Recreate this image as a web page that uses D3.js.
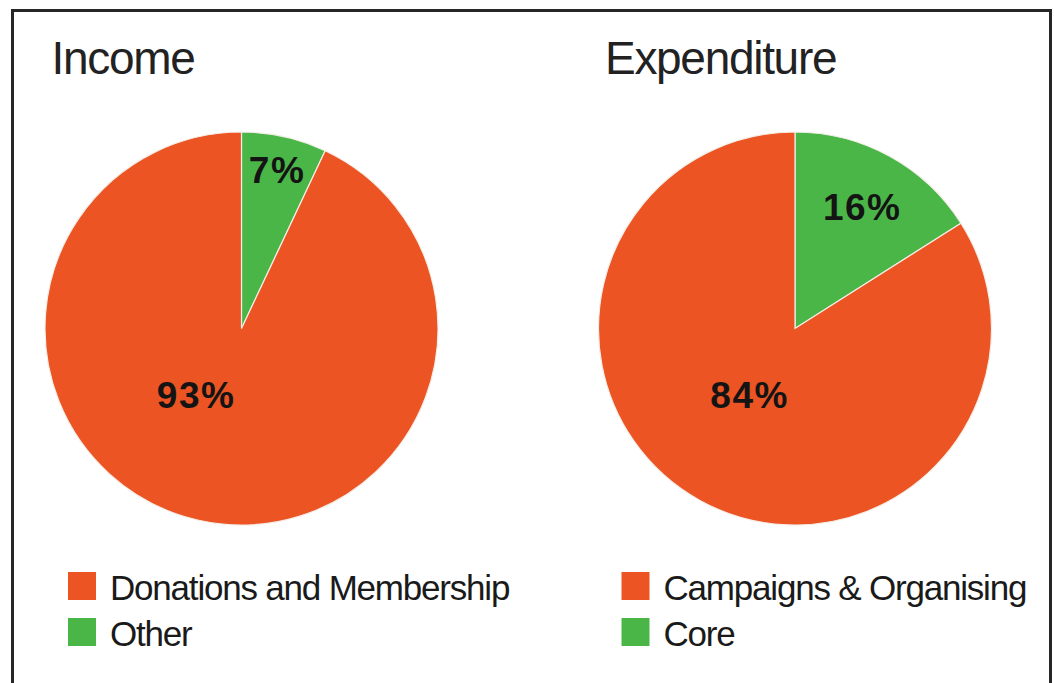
<!DOCTYPE html>
<html>
<head>
<meta charset="utf-8">
<script src="https://cdn.jsdelivr.net/npm/d3@7"></script>
<style>
  html, body { margin: 0; padding: 0; background: #fff; }
  svg { display: block; }
</style>
</head>
<body>
<svg id="chart" width="1054" height="683"></svg>
<script>
// ---- data ----
const chartTitles = ["Income", "Expenditure"];
const incomeCategories = ["Donations and Membership", "Other"];
const incomeValues = [93, 7];
const expenditureCategories = ["Campaigns & Organising", "Core"];
const expenditureValues = [84, 16];
const seriesColors = ["#EC5523", "#4BB648"];

const panels = [
  { title: chartTitles[0], cats: incomeCategories, vals: incomeValues },
  { title: chartTitles[1], cats: expenditureCategories, vals: expenditureValues }
];

const W = 1054, H = 683;
const svg = d3.select("#chart");

// frame
svg.append("rect")
  .attr("x", 12.5).attr("y", 10.5)
  .attr("width", 1038).attr("height", 720)
  .attr("fill", "none")
  .attr("stroke", "#262626")
  .attr("stroke-width", 3);

const panelX = d3.scalePoint().domain(d3.range(panels.length)).range([241.5, 795]);
const cy = 328.5, R = 196.5;

const pie = d3.pie().sort(null).value(d => d.value);
const arc = d3.arc().innerRadius(0).outerRadius(R);

panels.forEach((p, pi) => {
  const cx = panelX(pi);
  const g = svg.append("g");

  // title
  g.append("text")
    .attr("x", cx - 190)
    .attr("y", 74)
    .attr("font-family", "'Liberation Sans', Arial, sans-serif")
    .attr("font-size", 46)
    .attr("letter-spacing", -1.3)
    .attr("fill", "#222")
    .text(p.title);

  // pie data: minor slice first (starts at 12 o'clock, clockwise)
  const items = p.cats.map((c, i) => ({ cat: c, value: p.vals[i], color: seriesColors[i] })).reverse();
  const arcs = pie(items);

  const pg = g.append("g").attr("transform", `translate(${cx},${cy})`);
  pg.selectAll("path").data(arcs).enter().append("path")
    .attr("d", arc)
    .attr("fill", d => d.data.color)
    .attr("stroke", "#f4eee8")
    .attr("stroke-width", 1.2);

  pg.selectAll("text").data(arcs).enter().append("text")
    .each(function(d) {
      const frac = d.data.value / 100;
      let ang, rf;
      if (frac < 0.5) {
        ang = (d.startAngle + d.endAngle) / 2;
        rf = 0.923 - 1.33 * frac;
      } else {
        ang = Math.PI * (214.3 / 180);
        rf = 0.41;
      }
      d3.select(this)
        .attr("x", Math.sin(ang) * rf * R)
        .attr("y", -Math.cos(ang) * rf * R);
    })
    .attr("dy", "0.36em")
    .attr("text-anchor", "middle")
    .attr("font-family", "'Liberation Sans', Arial, sans-serif")
    .attr("font-weight", "bold")
    .attr("font-size", 37)
    .attr("letter-spacing", 1.5)
    .attr("fill", "#141414")
    .text(d => d.data.value + "%");

  // legend
  const lg = g.append("g").attr("transform", `translate(${cx - 173.5},572)`);
  const rows = lg.selectAll("g").data(p.cats).enter().append("g")
    .attr("transform", (d, i) => `translate(0,${i * 46})`);
  rows.append("rect")
    .attr("width", 28).attr("height", 28)
    .attr("fill", (d, i) => seriesColors[i]);
  rows.append("text")
    .attr("x", 42).attr("y", 28)
    .attr("font-family", "'Liberation Sans', Arial, sans-serif")
    .attr("font-size", 35)
    .attr("letter-spacing", -1.2)
    .attr("fill", "#1a1a1a")
    .text(d => d);
});
</script>
</body>
</html>
